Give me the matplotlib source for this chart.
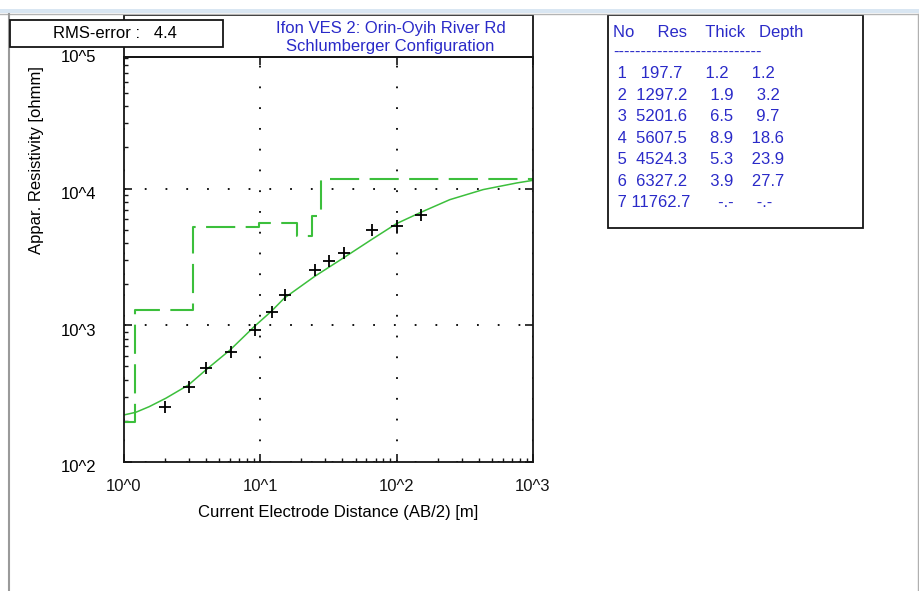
import matplotlib
matplotlib.use("Agg")
import matplotlib.pyplot as plt
from matplotlib import patches, lines, transforms
from matplotlib.ticker import FixedLocator, LogLocator, NullFormatter

plt.rcParams['font.family'] = ['Liberation Sans', 'DejaVu Sans']

# measured apparent resistivity (crosses)
ab2 = [2.0, 3.0, 4.0, 6.1, 9.1, 12.2, 15.2, 25.2, 31.8, 40.9, 65.6, 100, 151]
rho_a = [254, 356, 486, 636, 927, 1241, 1653, 2551, 2933, 3398, 4980, 5357, 6374]

# calculated model curve (solid green)
model_x = [1.0, 1.22, 1.53, 2.03, 2.97, 3.99, 6.02, 9.03, 12.0, 15.0, 25.0,
           40.6, 65.2, 99.5, 150, 245, 431, 759, 1000]
model_y = [221, 231, 254, 293, 366, 472, 662, 980, 1262, 1582, 2278,
           3107, 4230, 5540, 6700, 8300, 9840, 11000, 11500]

# layer table
layer_no = [1, 2, 3, 4, 5, 6, 7]
layer_res = [197.7, 1297.2, 5201.6, 5607.5, 4524.3, 6327.2, 11762.7]
layer_thick = [1.2, 1.9, 6.5, 8.9, 5.3, 3.9, None]
layer_depth = [1.2, 3.2, 9.7, 18.6, 23.9, 27.7, None]

x_ticks = [1, 10, 100, 1000]
x_tick_labels = ['10^0', '10^1', '10^2', '10^3']
y_ticks = [100, 1000, 10000, 100000]
y_tick_labels = ['10^2', '10^3', '10^4', '10^5']

title1 = 'Ifon VES 2: Orin-Oyih River Rd'
title2 = 'Schlumberger Configuration'
rms = 4.4

green = '#3cbf3c'
blue = '#2a2ac8'
edge = '#151515'
fs = 12

W, H = 920, 591


def fx(px):
    return px / W


def fy(py):
    return 1 - py / H


fig = plt.figure(figsize=(9.2, 5.91), dpi=100)
fig.patch.set_facecolor('white')

ax = fig.add_axes([fx(124), fy(462), fx(533) - fx(124), fy(57) - fy(462)])
ax.set_xscale('log')
ax.set_yscale('log')
ax.set_xlim(1, 1000)
ax.set_ylim(100, 10 ** 4.963)

# layered model as dashed steps
step_x = [x_ticks[0]] + layer_depth[:-1] + [x_ticks[-1]]
step_y = layer_res + [layer_res[-1]]
ax.plot(step_x, step_y, drawstyle='steps-post', color=green, lw=1.5,
        dashes=(14, 5))
ax.plot(model_x, model_y, color=green, lw=1.1)
ax.plot(ab2, rho_a, '+', color='black', ms=9, mew=1.3)

ax.grid(True, which='major', color='black', ls=(0, (1, 10.5)), lw=1.3)
ax.grid(False, which='minor')

ax.xaxis.set_major_locator(FixedLocator(x_ticks))
ax.xaxis.set_minor_locator(LogLocator(base=10, subs=range(2, 10), numticks=20))
ax.xaxis.set_minor_formatter(NullFormatter())
ax.set_xticklabels(x_tick_labels, fontsize=fs)
ax.yaxis.set_major_locator(FixedLocator(y_ticks))
ax.yaxis.set_minor_locator(LogLocator(base=10, subs=range(2, 10), numticks=20))
ax.yaxis.set_major_formatter(NullFormatter())
ax.yaxis.set_minor_formatter(NullFormatter())

ax.tick_params(which='both', direction='in', colors=edge)
ax.tick_params(which='major', length=6, width=1.2, top=True, right=True)
ax.tick_params(which='minor', length=3, width=1.0, top=False, right=False)
ax.tick_params(axis='x', which='major', pad=12.5)
for s in ax.spines.values():
    s.set_linewidth(1.3)
    s.set_color(edge)

# y tick labels drawn by hand (10^5 sits above the frame)
ylab_trans = transforms.offset_copy(ax.get_yaxis_transform(), fig=fig,
                                    x=0, y=-6, units='dots')
for v, s in zip(y_ticks, y_tick_labels):
    ax.text(-(124 - 96.5) / 409, v, s, transform=ylab_trans, ha='right',
            va='center', fontsize=fs, clip_on=False)

fig.text(fx(198), fy(512), 'Current Electrode Distance (AB/2) [m]',
         ha='left', va='center', fontsize=fs)
fig.text(fx(37), fy(160), 'Appar. Resistivity [ohmm]', rotation=90,
         ha='center', va='center', fontsize=fs)

# window edges
fig.add_artist(patches.Rectangle((0, fy(13)), 1, fy(9) - fy(13),
                                 transform=fig.transFigure, color='#d9e6f2', lw=0))
fig.add_artist(lines.Line2D([0, 1], [fy(14), fy(14)], color='#b4b4b4', lw=1))
fig.add_artist(lines.Line2D([fx(9), fx(9)], [fy(14), 0], color='#9a9a9a', lw=1.5))
fig.add_artist(lines.Line2D([fx(918), fx(918)], [fy(14), 0], color='#b0b0b0', lw=1))

# title strip above the plot
fig.add_artist(patches.Rectangle((fx(124), fy(57)), fx(533) - fx(124),
                                 fy(15) - fy(57), transform=fig.transFigure,
                                 fill=False, ec=edge, lw=1.3))
fig.text(fx(390.5), fy(29), title1, ha='center', va='center', color=blue,
         fontsize=fs)
fig.text(fx(390), fy(47), title2, ha='center', va='center', color=blue,
         fontsize=fs)

# RMS box
fig.add_artist(patches.Rectangle((fx(10), fy(47)), fx(223) - fx(10),
                                 fy(20) - fy(47), transform=fig.transFigure,
                                 fc='white', ec=edge, lw=1.3, zorder=3))
fig.text(fx(53), fy(34), f'RMS-error :   {rms}', ha='left', va='center',
         fontsize=fs, zorder=4)

# layer table
fig.add_artist(patches.Rectangle((fx(608), fy(228)), fx(863) - fx(608),
                                 fy(15) - fy(228), transform=fig.transFigure,
                                 fc='white', ec=edge, lw=1.3))
fig.text(fx(613), fy(32), 'No     Res    Thick   Depth', ha='left',
         va='center', color=blue, fontsize=fs)
fig.text(fx(613), fy(52), '-' * 27, ha='left', va='center', color=blue,
         fontsize=fs)
for i, (n, r, t, d) in enumerate(zip(layer_no, layer_res, layer_thick, layer_depth)):
    ts = f'{t:8.1f}' if t is not None else '      -.-'
    ds = f'{d:8.1f}' if d is not None else '     -.-'
    row = f'{n:2d} {r:7.1f}{ts}{ds}'
    fig.text(fx(613), fy(74 + i * 21.4), row, ha='left', va='center',
             color=blue, fontsize=fs)

fig.savefig('out.png', dpi=100)
